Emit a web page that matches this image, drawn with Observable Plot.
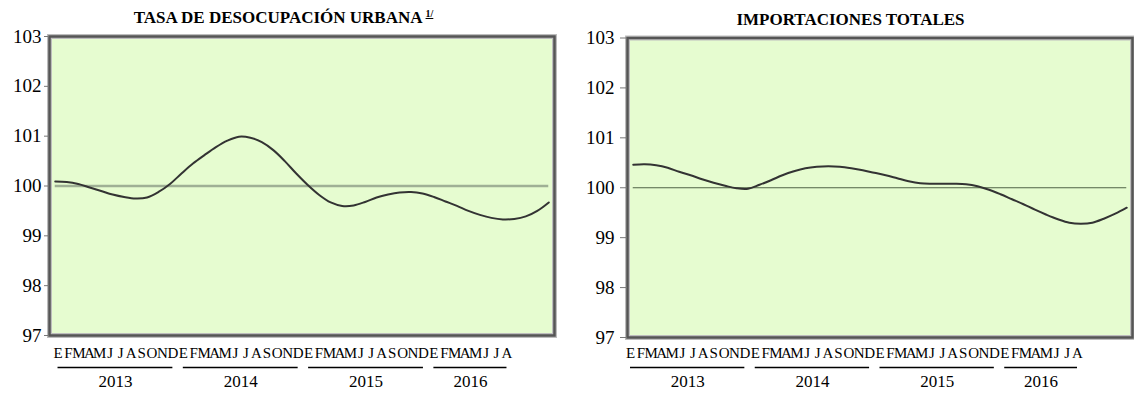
<!DOCTYPE html>
<html><head><meta charset="utf-8">
<script src="https://cdn.jsdelivr.net/npm/d3@7"></script>
<script src="https://cdn.jsdelivr.net/npm/@observablehq/plot@0.6"></script>
<style>
body{margin:0;background:#fff;}
#root{position:relative;width:1134px;height:394px;font-family:"Liberation Serif","Times New Roman",serif;overflow:hidden;}
.panel{position:absolute;top:0;width:567px;height:394px;}
.title{position:absolute;left:0;width:567px;text-align:center;font-weight:bold;font-size:17px;line-height:20px;white-space:nowrap;font-family:"Liberation Serif",serif;}
.title sup{font-size:10px;text-decoration:underline;vertical-align:6px;margin-left:3px;}
.main{position:absolute;top:0;left:0;}
.axis{position:absolute;left:0;top:340px;}
</style></head><body><div id="root"></div>
<script>
const monthLetters = ["E","F","M","A","M","J","J","A","S","O","N","D"];
const years = [2013, 2014, 2015, 2016];
const monthsPerYear = [12, 12, 12, 8];
const yTicks = [97, 98, 99, 100, 101, 102, 103];
const desocupacion = [100.09,100.08,100.04,99.97,99.90,99.83,99.78,99.75,99.77,99.88,100.04,100.25,
  100.45,100.62,100.78,100.91,100.99,100.97,100.88,100.72,100.50,100.25,100.02,99.82,
  99.67,99.60,99.61,99.68,99.77,99.83,99.87,99.88,99.85,99.78,99.69,99.60,
  99.50,99.42,99.36,99.33,99.34,99.39,99.50,99.67];
const importaciones = [100.46,100.47,100.45,100.40,100.32,100.25,100.17,100.10,100.04,99.99,99.98,100.06,
  100.15,100.25,100.33,100.39,100.42,100.43,100.42,100.39,100.35,100.30,100.25,100.19,
  100.13,100.09,100.08,100.08,100.08,100.07,100.03,99.96,99.87,99.77,99.67,99.56,
  99.46,99.37,99.30,99.28,99.30,99.38,99.48,99.60];

const FONT = '"Liberation Serif", "Times New Roman", serif';
// month table built from the arrays above
const months = [];
years.forEach((yr, k) => { for (let m = 0; m < monthsPerYear[k]; m++) months.push({i: months.length, year: yr, m: monthLetters[m]}); });
const yearTable = years.map(yr => {
  const ms = months.filter(d => d.year === yr);
  const a = ms[0].i, b = ms[ms.length - 1].i;
  return {year: String(yr), a, b, mid: (a + b) / 2};
});

const panels = [
  {title: 'TASA DE DESOCUPACIÓN URBANA<sup>1/</sup>', titleTop: 4, left: 0, values: desocupacion,
   mT: 36, mB: 10, mL: 49, mR: 13, h: 345, tickSize: 5, tickPadding: 3,
   ruleStroke: "#9fb095", ruleWidth: 2.6, axL: 52.3, axR: 55.3},
  {title: 'IMPORTACIONES TOTALES', titleTop: 10, left: 567, values: importaciones,
   mT: 37.5, mB: 10, mL: 60, mR: 2, h: 347, tickSize: 7, tickPadding: 6,
   ruleStroke: "#4f6346", ruleWidth: 1.2, axL: 57.8, axR: 51.8}
];

const root = document.getElementById("root");
for (const p of panels) {
  const div = document.createElement("div");
  div.className = "panel"; div.style.left = p.left + "px";
  root.appendChild(div);
  const t = document.createElement("div");
  t.className = "title"; t.style.top = p.titleTop + "px"; t.innerHTML = p.title;
  div.appendChild(t);

  const data = months.map(d => ({i: d.i, v: p.values[d.i]}));
  const main = Plot.plot({
    width: 567, height: p.h,
    marginTop: p.mT, marginBottom: p.mB, marginLeft: p.mL, marginRight: p.mR,
    x: {domain: [-0.5, months.length - 0.5], axis: null},
    y: {domain: [97, 103], axis: null},
    style: {fontFamily: FONT, fontSize: "19px", color: "#000", background: "transparent", overflow: "visible"},
    marks: [
      Plot.frame({fill: "#e6fcd0"}),
      Plot.ruleY([100], {x1: 0, x2: months.length - 1, stroke: p.ruleStroke, strokeWidth: p.ruleWidth}),
      Plot.line(data, {x: "i", y: "v", curve: "catmull-rom", stroke: "#333", strokeWidth: 2}),
      Plot.frame({stroke: "#bdbdbd", strokeWidth: 5}),
      Plot.frame({stroke: "#555", strokeWidth: 2.5}),
      Plot.axisY(yTicks, {tickFormat: "d", label: null, tickSize: p.tickSize, tickPadding: p.tickPadding, stroke: "#777", fill: "#000", fontSize: 19, fontFamily: FONT})
    ]
  });
  main.classList.add("main");
  div.appendChild(main);

  const axis = Plot.plot({
    width: 567, height: 54,
    marginTop: 13, marginBottom: 13, marginLeft: p.axL, marginRight: p.axR,
    x: {domain: [-0.5, months.length - 0.5], axis: null},
    y: {type: "point", domain: ["mes", "raya", "año"], axis: null, padding: 0},
    style: {fontFamily: FONT, color: "#000", background: "transparent", overflow: "visible"},
    marks: [
      Plot.text(months, {x: "i", y: () => "mes", text: "m", fontSize: 15, fontFamily: FONT, fill: "#000"}),
      Plot.ruleY(yearTable, {x1: "a", x2: "b", y: () => "raya", stroke: "#000", strokeWidth: 1.4}),
      Plot.text(yearTable, {x: "mid", y: () => "año", text: "year", fontSize: 17, fontFamily: FONT, fill: "#000"})
    ]
  });
  axis.classList.add("axis");
  div.appendChild(axis);
}
</script></body></html>
